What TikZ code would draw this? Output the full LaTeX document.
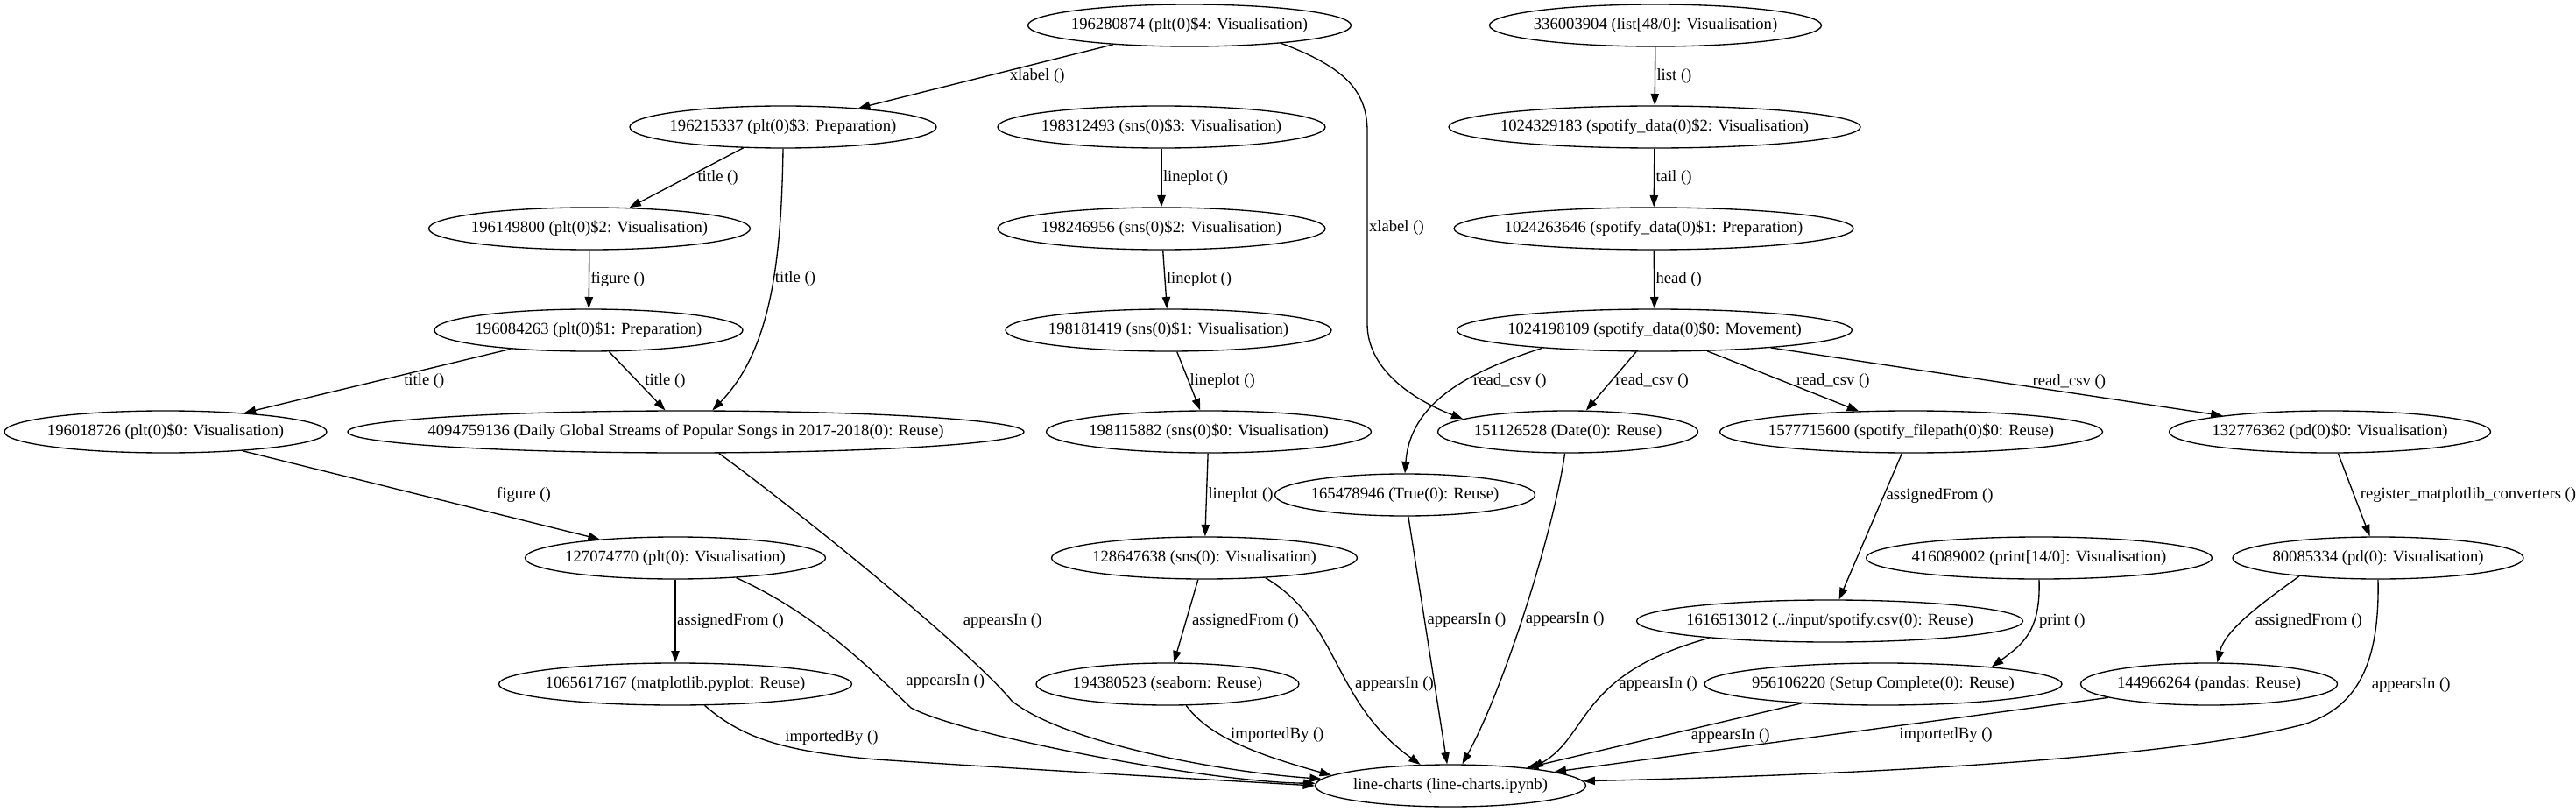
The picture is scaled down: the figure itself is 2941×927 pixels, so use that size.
\documentclass[tikz,border=0pt]{standalone}
\usepackage{fontspec}
\setmainfont{Liberation Serif}
\usetikzlibrary{arrows.meta, positioning, shapes.geometric}

\begin{document}
\begin{tikzpicture}[
    x=0.75pt, y=-0.75pt,
    ->,
    >={Triangle[length=10pt, width=7pt]},
    line width=1pt,
    every node/.style={font=\fontsize{14}{16}\selectfont},
    obj/.style={ellipse, draw, inner xsep=-40pt, inner ysep=2pt, minimum height=36pt, minimum width=#1*0.75pt},
    lbl/.style={inner sep=1pt}
]
\useasboundingbox (0,0) rectangle (2941,927);

% --- Nodes ---
\node[obj=369] (p4)    at (1358,29)  {196280874 (plt(0)\$4: Visualisation)};
\node[obj=379] (lst)   at (1890,29)  {336003904 (list[48/0]: Visualisation)};
\node[obj=350] (p3)    at (894,145)  {196215337 (plt(0)\$3: Preparation)};
\node[obj=374] (s3)    at (1326,145) {198312493 (sns(0)\$3: Visualisation)};
\node[obj=470] (sd2)   at (1889,145) {1024329183 (spotify\_data(0)\$2: Visualisation)};
\node[obj=367] (p2)    at (673,261)  {196149800 (plt(0)\$2: Visualisation)};
\node[obj=374] (s2)    at (1326,261) {198246956 (sns(0)\$2: Visualisation)};
\node[obj=456] (sd1)   at (1888,261) {1024263646 (spotify\_data(0)\$1: Preparation)};
\node[obj=352] (p1)    at (672,377)  {196084263 (plt(0)\$1: Preparation)};
\node[obj=372] (s1)    at (1334,377) {198181419 (sns(0)\$1: Visualisation)};
\node[obj=451] (sd0)   at (1889,377) {1024198109 (spotify\_data(0)\$0: Movement)};
\node[obj=368] (p0)    at (189,493)  {196018726 (plt(0)\$0: Visualisation)};
\node[obj=772] (ttl)   at (783,493)  {4094759136 (Daily Global Streams of Popular Songs in 2017-2018(0): Reuse)};
\node[obj=371] (s0)    at (1380,493) {198115882 (sns(0)\$0: Visualisation)};
\node[obj=297] (date)  at (1790,493) {151126528 (Date(0): Reuse)};
\node[obj=437] (sfp)   at (2182,493) {1577715600 (spotify\_filepath(0)\$0: Reuse)};
\node[obj=367] (pd0)   at (2660,493) {132776362 (pd(0)\$0: Visualisation)};
\node[obj=297] (tru)   at (1604,565) {165478946 (True(0): Reuse)};
\node[obj=343] (plt)   at (771,637)  {127074770 (plt(0): Visualisation)};
\node[obj=349] (sns)   at (1375,637) {128647638 (sns(0): Visualisation)};
\node[obj=395] (prt)   at (2328,637) {416089002 (print[14/0]: Visualisation)};
\node[obj=332] (pd)    at (2715,637) {80085334 (pd(0): Visualisation)};
\node[obj=441] (csv)   at (2089,709) {1616513012 (../input/spotify.csv(0): Reuse)};
\node[obj=403] (mpl)   at (771,781)  {1065617167 (matplotlib.pyplot: Reuse)};
\node[obj=300] (sea)   at (1333,781) {194380523 (seaborn: Reuse)};
\node[obj=408] (setup) at (2150,781) {956106220 (Setup Complete(0): Reuse)};
\node[obj=293] (pds)   at (2522,781) {144966264 (pandas: Reuse)};
\node[obj=309] (lc)    at (1656,897) {line-charts (line-charts.ipynb)};

% --- plt chain ---
\draw (p4) -- node[lbl, xshift=44pt] {xlabel ()} (p3);
\draw (p4.-11) .. controls (1530,75) and (1561,100) .. (1561,150)
      -- node[lbl, right] {xlabel ()} (1561,370)
      .. controls (1561,420) and (1610,455) .. (date.173);
\draw (p3) -- node[lbl, xshift=27pt] {title ()} (p2);
\draw (p3.south) .. controls (892,300) and (880,400) .. node[lbl, right, pos=.42] {title ()} (ttl.39);
\draw (p2) -- node[lbl, right] {figure ()} (p1);
\draw (p1) -- node[lbl, xshift=40pt] {title ()} (p0);
\draw (p1) -- node[lbl, xshift=24pt] {title ()} (ttl);
\draw (p0) -- node[lbl, xshift=88pt] {figure ()} (plt);
\draw (plt) -- node[lbl, right] {assignedFrom ()} (mpl);

% --- sns chain ---
\draw (s3) -- node[lbl, right] {lineplot ()} (s2);
\draw (s2) -- node[lbl, right] {lineplot ()} (s1);
\draw (s1) -- node[lbl, xshift=29pt] {lineplot ()} (s0);
\draw (s0) -- node[lbl, right] {lineplot ()} (sns);
\draw (sns) -- node[lbl, xshift=51pt] {assignedFrom ()} (sea);

% --- spotify_data chain ---
\draw (lst) -- node[lbl, right] {list ()} (sd2);
\draw (sd2) -- node[lbl, right] {tail ()} (sd1);
\draw (sd1) -- node[lbl, right] {head ()} (sd0);
\draw (sd0.189) .. controls (1675,425) and (1610,460) .. node[lbl, pos=.385, xshift=38pt] {read\_csv ()} (tru.north);
\draw (sd0) -- node[lbl, xshift=35pt] {read\_csv ()} (date);
\draw (sd0) -- node[lbl, xshift=43pt] {read\_csv ()} (sfp);
\draw (sd0) -- node[lbl, xshift=62pt] {read\_csv ()} (pd0);
\draw (sfp) -- node[lbl, pos=.29, xshift=48pt] {assignedFrom ()} (csv);
\draw (pd0) -- node[lbl, right, xshift=4pt] {register\_matplotlib\_converters ()} (pd);
\draw (prt.south) .. controls (2330,720) and (2310,735) .. node[lbl, pos=.35, xshift=24pt] {print ()} (setup.9);
\draw (pd.193) .. controls (2580,690) and (2540,720) .. node[lbl, pos=.535, xshift=56pt] {assignedFrom ()} (pds.69);

% --- Edges into the notebook ---
\draw (ttl.-33) .. controls (920,590) and (1110,745) .. node[lbl, pos=.635, xshift=64pt] {appearsIn ()} (1155,800)
      .. controls (1210,845) and (1380,880) .. (lc.177);
\draw (plt.-18) .. controls (930,700) and (990,760) .. node[lbl, pos=.8, xshift=53pt] {appearsIn ()} (1040,808)
      .. controls (1100,840) and (1380,893) .. (lc.179);
\draw (mpl.-36) .. controls (850,845) and (900,858) .. node[lbl, pos=.4, xshift=64pt] {importedBy ()} (1000,867)
      .. controls (1200,880) and (1380,890) .. (lc.180);
\draw (sns.-18) .. controls (1530,710) and (1520,800) .. node[lbl, pos=.6, xshift=39pt] {appearsIn ()} (lc.145);
\draw (sea.-49) .. controls (1380,840) and (1430,860) .. node[lbl, pos=.375, xshift=48pt] {importedBy ()} (lc.175);
\draw (tru) -- node[lbl, pos=.42, xshift=36pt] {appearsIn ()} (lc);
\draw (date) .. controls (1775,600) and (1720,780) .. node[lbl, pos=.54, xshift=37pt] {appearsIn ()} (lc);
\draw (csv.188) .. controls (1800,770) and (1815,840) .. node[lbl, pos=.36, xshift=39pt] {appearsIn ()} (lc.12);
\draw (setup) -- node[lbl, xshift=57pt] {appearsIn ()} (lc);
\draw (pds) -- node[lbl, xshift=98pt] {importedBy ()} (lc);
\draw (pd.south) .. controls (2717,760) and (2690,808) .. node[lbl, pos=.55, xshift=46pt] {appearsIn ()} (2630,827)
      .. controls (2470,868) and (2100,885) .. (lc.2);

\end{tikzpicture}
\end{document}
